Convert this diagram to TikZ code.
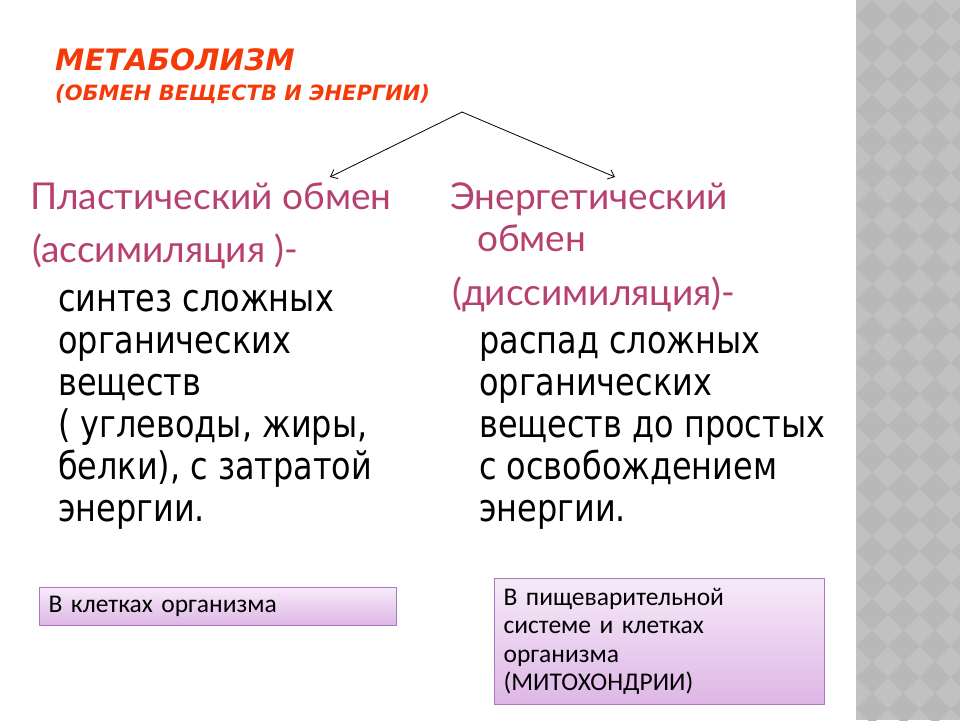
\documentclass[tikz,border=0pt]{standalone}
\usepackage{fontspec}
\setmainfont{DejaVu Sans}
\newfontfamily\bodyfont[FakeStretch=0.84]{DejaVu Sans}
\newfontfamily\headfont{Lato}
\newfontfamily\boxfont{Carlito}
\usetikzlibrary{arrows.meta}
\definecolor{titlered}{RGB}{245,58,10}
\definecolor{headrose}{RGB}{183,65,110}
\definecolor{boxedge}{RGB}{170,120,190}
\definecolor{boxtop}{RGB}{247,234,249}
\definecolor{boxbot}{RGB}{222,182,230}
\definecolor{stripgray}{RGB}{193,193,193}
\definecolor{stripdark}{RGB}{184,184,184}
\newcommand{\linesof}[1]{\begin{tabular}[t]{@{}l@{}}#1\end{tabular}}
\begin{document}
\begin{tikzpicture}[x=1pt,y=-1pt,>={Straight Barb[length=6pt,width=10pt]},line join=round,line cap=round,
	title/.style={anchor=base west,inner sep=0pt,text=titlered},
	head/.style={anchor=base west,inner sep=0pt,text=headrose,font=\headfont\fontsize{37}{42}\selectfont},
	body/.style={anchor=base west,inner sep=0pt,font=\bodyfont\fontsize{38}{42}\selectfont},
	place/.style={draw=boxedge,line width=1.2pt,top color=boxtop,bottom color=boxbot,anchor=north west,align=left,font=\boxfont\fontsize{25.5}{28.5}\selectfont,inner xsep=9pt}]
	\useasboundingbox (0,0) rectangle (960,720);
	\fill[stripgray] (856,0) rectangle (960,720);
	\begin{scope}
		\clip (856,0) rectangle (960,720);
		\foreach \i in {0,...,3} \foreach \j in {0,...,22}
			\fill[stripdark] (872+31.5*\i,16+31.5*\j) +(-15.75,0) -- +(0,-15.75) -- +(15.75,0) -- +(0,15.75) -- cycle;
	\end{scope}
	\node[title,font=\bfseries\itshape\fontsize{29.5}{34}\selectfont] (metab) at (55,70) {МЕТАБОЛИЗМ};
	\node[title,font=\bfseries\itshape\fontsize{21}{25}\selectfont] (exch) at (55,100) {(ОБМЕН ВЕЩЕСТВ И ЭНЕРГИИ)};
	\node[head] (plast) at (30,209) {Пластический обмен};
	\node[head] (assim) at (32,262) {(ассимиляция )-};
	\node[body] (synth) at (58,311) {\linesof{синтез сложных\\органических\\веществ\\( углеводы, жиры,\\белки), с затратой\\энергии.}};
	\node[head] (energ) at (450,209) {\linesof{Энергетический\\\hspace*{27pt}обмен}};
	\node[head] (dissim) at (452,305) {(диссимиляция)-};
	\node[body] (decay) at (479,353) {\linesof{распад сложных\\органических\\веществ до простых\\с освобождением\\энергии.}};
	\node[place,minimum width=357pt,minimum height=38pt,text width=339pt] (cellbox) at (39,587) {В клетках организма};
	\node[place,minimum width=330pt,minimum height=126pt,text width=312pt] (digbox) at (494,578) {В пищеварительной\\системе и клетках\\организма\\(МИТОХОНДРИИ)};
	\coordinate (fork) at (462,112);
	\coordinate (plastin) at (330,177);
	\coordinate (energin) at (615,177);
	\draw[->,line width=0.8pt] (fork)--(plastin);
	\draw[->,line width=0.8pt] (fork)--(energin);
\end{tikzpicture}
\end{document}
